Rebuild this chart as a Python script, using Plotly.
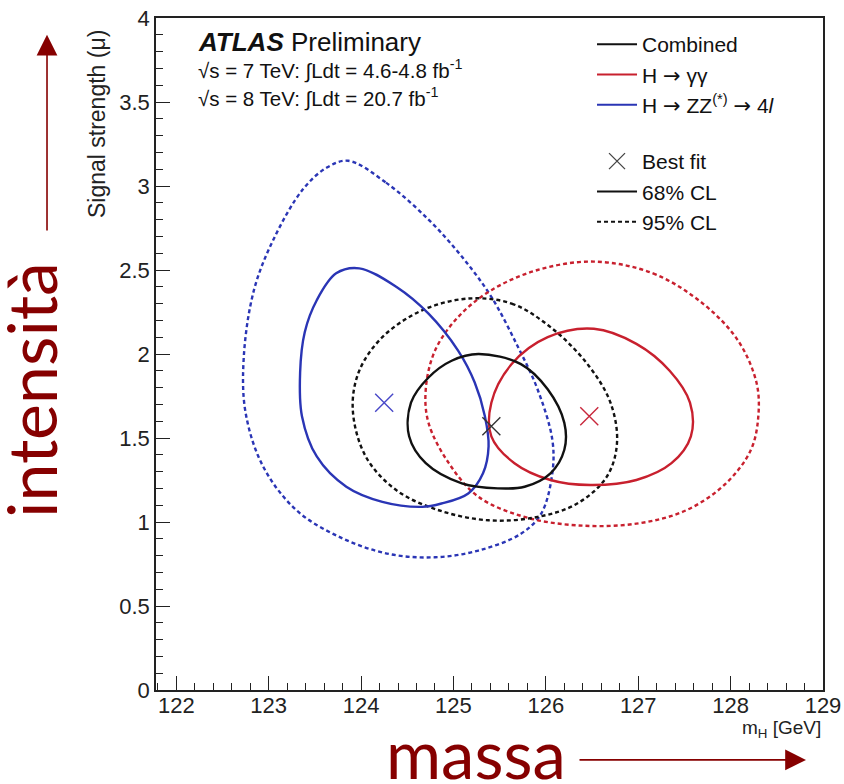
import plotly.graph_objects as go

# ---------------- data ----------------
# H -> ZZ* -> 4l, 95% CL
zz95_x = [123.86, 124.27, 124.73, 125.09, 125.41, 125.70, 125.91, 126.07, 126.07, 125.95,
          125.73, 125.27, 124.80, 124.30, 123.77, 123.30, 122.94, 122.75, 122.73, 122.84,
          123.05, 123.37, 123.63]
zz95_y = [3.15, 3.02, 2.80, 2.58, 2.34, 2.04, 1.79, 1.49, 1.29, 1.05,
          0.93, 0.83, 0.79, 0.81, 0.91, 1.07, 1.33, 1.65, 1.98, 2.38,
          2.68, 2.98, 3.11]
# H -> ZZ* -> 4l, 68% CL
zz68_x = [123.98, 124.38, 124.73, 125.05, 125.23, 125.34, 125.38, 125.32, 125.16, 124.87,
          124.66, 124.23, 123.84, 123.52, 123.36, 123.34, 123.39, 123.52, 123.73]
zz68_y = [2.51, 2.40, 2.24, 2.02, 1.83, 1.63, 1.45, 1.29, 1.17, 1.11,
          1.09, 1.12, 1.21, 1.39, 1.63, 1.89, 2.13, 2.32, 2.48]
# Combined, 68% CL
comb68_x = [125.27, 125.73, 126.02, 126.20, 126.20, 126.05, 125.77, 125.48, 125.09, 124.70,
            124.52, 124.54, 124.73, 124.98]
comb68_y = [2.00, 1.94, 1.79, 1.59, 1.43, 1.29, 1.21, 1.20, 1.23, 1.35,
            1.51, 1.71, 1.86, 1.96]
# Combined, 95% CL
comb95_x = [125.16, 125.63, 126.05, 126.45, 126.70, 126.77, 126.66, 126.34, 125.91, 125.38,
            124.84, 124.38, 124.05, 123.91, 123.98, 124.23, 124.66]
comb95_y = [2.33, 2.30, 2.16, 1.94, 1.71, 1.47, 1.27, 1.11, 1.03, 1.01,
            1.07, 1.19, 1.39, 1.67, 1.90, 2.10, 2.26]
# H -> gamma gamma, 68% CL
gg68_x = [126.52, 126.98, 127.34, 127.56, 127.57, 127.36, 126.98, 126.48, 126.05, 125.66,
          125.41, 125.41, 125.63, 126.02]
gg68_y = [2.15, 2.06, 1.90, 1.71, 1.51, 1.35, 1.25, 1.22, 1.25, 1.35,
          1.51, 1.71, 1.94, 2.10]
# H -> gamma gamma, 95% CL
gg95_x = [126.52, 127.16, 127.70, 128.08, 128.28, 128.30, 128.22, 127.95, 127.52, 126.98,
          126.34, 125.77, 125.27, 124.95, 124.73, 124.70, 124.80, 125.05, 125.41, 125.91]
gg95_y = [2.55, 2.48, 2.30, 2.08, 1.83, 1.63, 1.43, 1.23, 1.07, 0.99,
          0.98, 1.03, 1.15, 1.35, 1.59, 1.79, 2.02, 2.22, 2.38, 2.50]
# best fit points: combined, H->gamma gamma, H->ZZ
best_x = [125.41, 126.47, 124.25]
best_y = [1.57, 1.63, 1.71]

x_ticks = [122, 123, 124, 125, 126, 127, 128, 129]
y_ticks = [0, 0.5, 1, 1.5, 2, 2.5, 3, 3.5, 4]
y_ticklabels = ["0", "0.5", "1", "1.5", "2", "2.5", "3", "3.5", "4"]

BLACK = "#111111"
RED = "#c8202e"
BLUE = "#2a35b5"
DARKRED = "#860000"
DOT = "4px,3px"

def closed(a):
    return list(a) + [a[0]]

fig = go.Figure()

contours = [
    (zz95_x, zz95_y, BLUE, DOT),
    (gg95_x, gg95_y, RED, DOT),
    (comb95_x, comb95_y, BLACK, DOT),
    (zz68_x, zz68_y, BLUE, "solid"),
    (gg68_x, gg68_y, RED, "solid"),
    (comb68_x, comb68_y, BLACK, "solid"),
]
for cx, cy, col, dash in contours:
    fig.add_trace(go.Scatter(x=closed(cx), y=closed(cy), mode="lines",
                             line=dict(color=col, width=2.4, dash=dash, shape="spline", smoothing=1.0),
                             showlegend=False, hoverinfo="skip"))

best_cols = ["#333333", "#c8283c", "#4848c8"]
fig.add_trace(go.Scatter(x=best_x, y=best_y, mode="markers",
                         marker=dict(symbol="x-thin-open", size=18, color=best_cols,
                                     line=dict(width=1.4, color=best_cols)),
                         showlegend=False))

# legend entries
ARROW = "<span style='font-family:DejaVu Sans'>→</span>"
leg_font = dict(family="Liberation Sans, Arial, sans-serif", size=21, color="#111111")
fig.add_trace(go.Scatter(x=[None], y=[None], mode="lines", line=dict(color=BLACK, width=2),
                         name="Combined", legendgroup="a"))
fig.add_trace(go.Scatter(x=[None], y=[None], mode="lines", line=dict(color=RED, width=2),
                         name=f"H {ARROW} γγ", legendgroup="a"))
fig.add_trace(go.Scatter(x=[None], y=[None], mode="lines", line=dict(color=BLUE, width=2),
                         name=f"H {ARROW} ZZ<sup>(*)</sup> {ARROW} 4<i>l</i>", legendgroup="a"))
fig.add_trace(go.Scatter(x=[None], y=[None], mode="markers",
                         marker=dict(symbol="x-thin-open", size=16, color="#444444",
                                     line=dict(width=1.3, color="#444444")),
                         name="Best fit", legendgroup="b"))
fig.add_trace(go.Scatter(x=[None], y=[None], mode="lines", line=dict(color=BLACK, width=2),
                         name="68% CL", legendgroup="b"))
fig.add_trace(go.Scatter(x=[None], y=[None], mode="lines", line=dict(color=BLACK, width=2, dash=DOT),
                         name="95% CL", legendgroup="b"))

axis_font = dict(family="Liberation Sans, Arial, sans-serif", size=22, color="#222222")
fig.update_xaxes(range=[121.78, 129], tickvals=x_ticks, ticks="inside", ticklen=14, tickwidth=1.2,
                 tickcolor="#222", showline=True, linecolor="#222", linewidth=1.5, mirror=True,
                 showgrid=False, zeroline=False, tickfont=axis_font, ticklabelstandoff=-5,
                 ticklabeloverflow="allow", automargin=False,
                 minor=dict(dtick=0.2, ticks="inside", ticklen=7, tickcolor="#222", showgrid=False))
fig.update_yaxes(range=[0, 4], tickvals=y_ticks, ticktext=y_ticklabels, ticks="inside", ticklen=14,
                 tickwidth=1.2, tickcolor="#222", showline=True, linecolor="#222", linewidth=1.5,
                 mirror=True, showgrid=False, zeroline=False, tickfont=axis_font,
                 ticklabeloverflow="allow", automargin=False,
                 minor=dict(dtick=0.1, ticks="inside", ticklen=7, tickcolor="#222", showgrid=False))

F = "Liberation Sans, Arial, sans-serif"
ann = [
    dict(x=0.060, y=0.964, xref="paper", yref="paper", xanchor="left", yanchor="middle",
         text="<b><i>ATLAS</i></b> Preliminary", font=dict(family=F, size=26, color="#111"), showarrow=False),
    dict(x=0.060, y=0.923, xref="paper", yref="paper", xanchor="left", yanchor="middle",
         text="√s = 7 TeV: ∫Ldt = 4.6-4.8 fb<sup>-1</sup>", font=dict(family=F, size=20.5, color="#111"),
         showarrow=False),
    dict(x=0.060, y=0.881, xref="paper", yref="paper", xanchor="left", yanchor="middle",
         text="√s = 8 TeV: ∫Ldt = 20.7 fb<sup>-1</sup>", font=dict(family=F, size=20.5, color="#111"),
         showarrow=False),
]
# axis titles
ann.append(dict(x=-0.0885, y=0.985, xref="paper", yref="paper", xanchor="center", yanchor="top",
                text="Signal strength (μ)", textangle=-90, font=dict(family=F, size=23, color="#222"),
                showarrow=False))
ann.append(dict(x=1.0, y=-0.058, xref="paper", yref="paper", xanchor="right", yanchor="middle",
                text="m<sub>H</sub> [GeV]", font=dict(family=F, size=19, color="#222"), showarrow=False))
# handwritten labels
hand = "Lato, sans-serif"
ann.append(dict(x=-0.188, y=0.446, xref="paper", yref="paper", xanchor="center", yanchor="middle",
                text="intensità", textangle=-90,
                font=dict(family=hand, size=68, color=DARKRED), showarrow=False))
ann.append(dict(x=0.48, y=-0.094, xref="paper", yref="paper", xanchor="center", yanchor="middle",
                text="massa", font=dict(family=hand, size=67, color=DARKRED),
                showarrow=False))
# arrows
ann.append(dict(x=-0.1634, y=0.975, xref="x domain", yref="y domain", ax=-0.1634, ay=0.6815,
                axref="x domain", ayref="y domain", text="", showarrow=True, arrowhead=2,
                arrowsize=2.6, arrowwidth=1.6, arrowcolor=DARKRED))
ann.append(dict(x=0.9745, y=-0.104, xref="x domain", yref="y domain", ax=0.6327, ay=-0.104,
                axref="x domain", ayref="y domain", text="", showarrow=True, arrowhead=2,
                arrowsize=2.6, arrowwidth=1.6, arrowcolor=DARKRED))

fig.update_layout(
    width=844, height=784,
    margin=dict(l=156, r=21, t=18, b=94),
    plot_bgcolor="white", paper_bgcolor="white",
    annotations=ann,
    legend=dict(x=0.6537, y=0.991, xanchor="left", yanchor="top", font=leg_font,
                bgcolor="rgba(0,0,0,0)", traceorder="grouped", tracegroupgap=26,
                itemwidth=40),
)

fig.write_html("out.html", config={"displayModeBar": False},
               post_script="document.body.style.margin='0px';document.body.style.overflow='hidden';")
